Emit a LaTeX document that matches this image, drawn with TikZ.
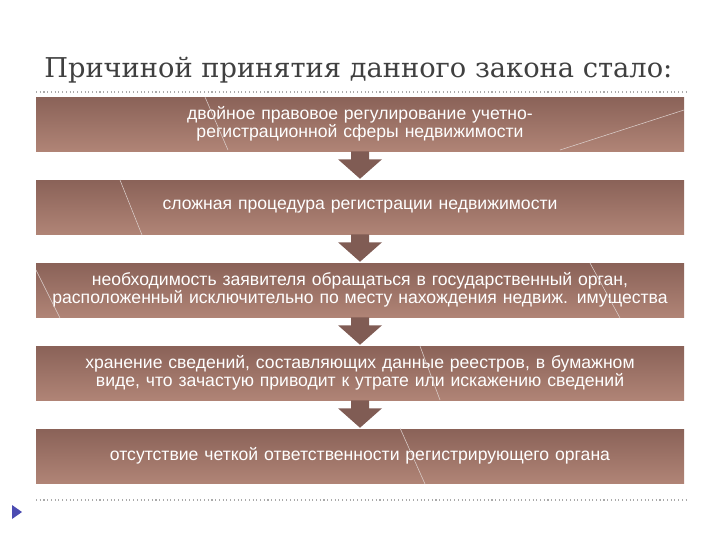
\documentclass[tikz,border=0pt]{standalone}
\usepackage{fontspec}
\usetikzlibrary{calc}
\setmainfont{Liberation Sans}
\newfontfamily\titlefont{DejaVu Serif}
\definecolor{boxtop}{RGB}{138,98,88}
\definecolor{boxbot}{RGB}{176,132,118}
\definecolor{arr}{RGB}{128,92,84}
\definecolor{dots}{RGB}{170,170,170}
\tikzset{
  pbox/.style={top color=boxtop,bottom color=boxbot,draw=none,minimum width=648*0.75pt,minimum height=54*0.75pt,text width=630*0.75pt,align=center,text=white,font=\fontsize{13.2}{13.5}\selectfont,inner sep=0pt},
  deco/.style={white!70!boxtop,line width=0.4pt},
  dotline/.style={dots,dotted,line width=0.8pt}
}
\begin{document}
\begin{tikzpicture}[x=0.75pt,y=-0.75pt]
\useasboundingbox (0,0) rectangle (720,540);
\node[text=black!75,anchor=west,inner sep=0pt] (title) at (44,70) {\resizebox{471pt}{!}{\titlefont\fontsize{18}{20}\selectfont Причиной принятия данного закона стало:}};
\draw[dotline] (36,92) -- (686,92);
\draw[dotline] (36,500) -- (686,500);
\fill[blue!40!gray] (12,505) -- (22,512) -- (12,519) -- cycle;
\node[pbox] (b1) at (360,124) {двойное правовое регулирование учетно-регистрационной сферы недвижимости};
\node[pbox] (b2) at (360,207) {сложная процедура регистрации недвижимости};
\node[pbox] (b3) at (360,290) {необходимость заявителя обращаться в государственный орган, расположенный исключительно по месту нахождения недвиж. имущества};
\node[pbox] (b4) at (360,373) {хранение сведений, составляющих данные реестров, в бумажном виде, что зачастую приводит к утрате или искажению сведений};
\node[pbox] (b5) at (360,456) {отсутствие четкой ответственности регистрирующего органа};
% decorative thin lines
\draw[deco] (205,97) -- (228,150);
\draw[deco] (560,150) -- (684,110);
\draw[deco] (120,180) -- (142,235);
\draw[deco] (36,270) -- (60,318);
\draw[deco] (590,263) -- (620,318);
\draw[deco] (420,346) -- (440,400);
\draw[deco] (400,428) -- (425,484);
\foreach \u/\l in {b1/b2,b2/b3,b3/b4,b4/b5}{
  \fill[arr] ($(\u.south)+(-9,0)$) -- ($(\u.south)+(9,0)$) -- ($(\u.south)+(9,8)$) -- ($(\u.south)+(22,8)$)
    -- ($(\l.north)+(0,-1)$) -- ($(\u.south)+(-22,8)$) -- ($(\u.south)+(-9,8)$) -- cycle;
}
\end{tikzpicture}
\end{document}
